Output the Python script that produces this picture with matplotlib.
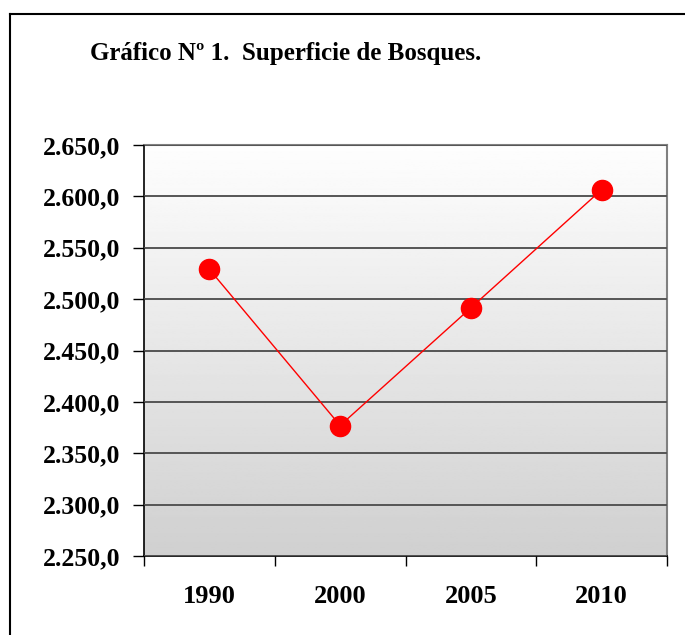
import numpy as np
import matplotlib
matplotlib.use("Agg")
import matplotlib.pyplot as plt
from matplotlib.lines import Line2D
from matplotlib.ticker import FuncFormatter

# Data (hectares, thousands)
years = ["1990", "2000", "2005", "2010"]
surface = [2529.0, 2377.0, 2491.5, 2606.5]

y_min, y_max, y_step = 2250, 2650, 50

W, H = 685, 635
fig = plt.figure(figsize=(W / 100, H / 100), dpi=100)
plt.rcParams["font.family"] = ["Liberation Serif", "DejaVu Serif"]

# plot area in pixels: left 144, right 667, top 145, bottom 556
ax = fig.add_axes([144 / W, 1 - 556 / H, (667 - 144) / W, (556 - 145) / H])

# gradient background (white at top to gray at bottom)
grad = np.linspace(0.995, 0.815, 256).reshape(-1, 1)
ax.imshow(grad, extent=[0, 1, 0, 1], transform=ax.transAxes, cmap="gray",
          vmin=0, vmax=1, aspect="auto", zorder=0)

x = np.arange(len(years))
ax.plot(x, surface, color="#ff0000", lw=1.0, marker="o", markersize=14.5,
        markeredgecolor="#ff0000", markerfacecolor="#ff0000", zorder=3)

ax.set_xlim(-0.5, len(years) - 0.5)
ax.set_ylim(y_min, y_max)
ax.set_yticks(np.arange(y_min, y_max + 1, y_step))
ax.yaxis.set_major_formatter(FuncFormatter(
    lambda v, p: f"{v:,.1f}".replace(",", "X").replace(".", ",").replace("X", ".")))
ax.set_xticks(x)
ax.set_xticklabels(years)
ax.set_xticks(np.arange(-0.5, len(years)), minor=True)

ax.grid(axis="y", color="#555555", lw=1.4, zorder=1)
ax.set_axisbelow(False)

ax.tick_params(axis="y", which="major", direction="out", length=8, width=1,
               pad=9, labelsize=18.5, color="black")
ax.tick_params(axis="x", which="major", length=0, pad=21, labelsize=19)
ax.tick_params(axis="x", which="minor", direction="out", length=7, width=1,
               color="black")
for lab in ax.get_xticklabels() + ax.get_yticklabels():
    lab.set_fontweight("bold")

for s in ["top", "right"]:
    ax.spines[s].set_color("#808080")
    ax.spines[s].set_linewidth(1.5)
for s in ["left", "bottom"]:
    ax.spines[s].set_color("black")
    ax.spines[s].set_linewidth(1.2)

fig.text(90 / W, 1 - 60 / H, "Gráfico Nº 1.  Superficie de Bosques.",
         fontsize=18, fontweight="bold", ha="left", va="baseline")

# outer frame: left and top edges only
fig.add_artist(Line2D([10 / W, 10 / W], [0, 1 - 14 / H], color="black", lw=1.5,
                      transform=fig.transFigure))
fig.add_artist(Line2D([10 / W, 1], [1 - 14 / H, 1 - 14 / H], color="black",
                      lw=1.5, transform=fig.transFigure))

fig.savefig("out.png", dpi=100)
